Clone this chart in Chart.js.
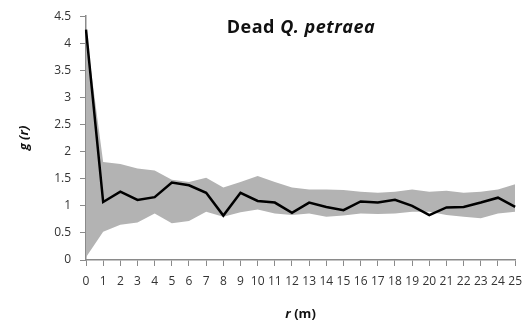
<!DOCTYPE html>
<html>
<head>
<meta charset="utf-8">
<title>Dead Q. petraea</title>
<script src="https://cdn.jsdelivr.net/npm/chart.js@4/dist/chart.umd.min.js"></script>
<style>
  html, body { margin: 0; padding: 0; background: #ffffff; }
  #wrap { width: 530px; height: 327px; }
</style>
</head>
<body>
<div id="wrap"><canvas id="gChart" width="530" height="327"></canvas></div>
<script>
/* ---------- DATA ---------- */
const distances = ["0","1","2","3","4","5","6","7","8","9","10","11","12","13","14","15","16","17","18","19","20","21","22","23","24","25"];
// observed pair correlation g(r)
const gObserved = [4.25, 1.07, 1.26, 1.11, 1.16, 1.43, 1.38, 1.24, 0.82, 1.24, 1.09, 1.06, 0.87, 1.06, 0.98, 0.92, 1.08, 1.06, 1.11, 1.00, 0.83, 0.97, 0.98, 1.06, 1.15, 0.98];
// simulation envelope
const envUpper = [4.2, 1.81, 1.77, 1.69, 1.65, 1.48, 1.44, 1.52, 1.34, 1.44, 1.55, 1.44, 1.34, 1.30, 1.30, 1.29, 1.26, 1.24, 1.26, 1.30, 1.26, 1.28, 1.24, 1.26, 1.30, 1.40];
const envLower = [0.05, 0.52, 0.65, 0.69, 0.86, 0.68, 0.72, 0.89, 0.80, 0.88, 0.93, 0.86, 0.83, 0.86, 0.80, 0.82, 0.86, 0.85, 0.86, 0.89, 0.89, 0.83, 0.80, 0.77, 0.86, 0.89];
const yTicks = [0, 0.5, 1, 1.5, 2, 2.5, 3, 3.5, 4, 4.5];

const FONT = "'Open Sans', sans-serif";
const AXIS_GRAY = "#8a8a8a";

/* ---------- TITLE + AXIS TITLES (mixed italic) ---------- */
function drawRuns(ctx, runs, x, y, align) {
    let total = 0;
    runs.forEach(r => { ctx.font = r.font; total += ctx.measureText(r.text).width; });
    let cx = align === "center" ? x - total / 2 : x;
    runs.forEach(r => {
        ctx.font = r.font;
        ctx.fillText(r.text, cx, y);
        cx += ctx.measureText(r.text).width;
    });
}

const labelsPlugin = {
    id: 'labels',
    afterDraw(chart) {
        const ctx = chart.ctx;
        const area = chart.chartArea;
        ctx.save();
        ctx.fillStyle = "#111";
        ctx.textBaseline = "alphabetic";
        ctx.textAlign = "left";

        // chart title
        ctx.letterSpacing = "0.5px";
        drawRuns(ctx, [
            { text: "Dead ", font: "bold 18px " + FONT },
            { text: "Q. petraea", font: "italic bold 18px " + FONT }
        ], 301, 33, "center");
        ctx.letterSpacing = "0px";

        // x axis title
        drawRuns(ctx, [
            { text: "r", font: "italic bold 13px " + FONT },
            { text: " (m)", font: "bold 13px " + FONT }
        ], (area.left + area.right) / 2, 318, "center");

        // y axis title, rotated
        ctx.translate(28, 138);
        ctx.rotate(-Math.PI / 2);
        drawRuns(ctx, [
            { text: "g (r)", font: "italic bold 13px " + FONT }
        ], 0, 0, "center");
        ctx.restore();
    }
};

/* ---------- CHART ---------- */
document.addEventListener("DOMContentLoaded", () => {
    const ctx = document.getElementById("gChart").getContext('2d');

    new Chart(ctx, {
        type: "line",
        data: {
            labels: distances,
            datasets: [
                {
                    label: "lower",
                    data: envLower,
                    borderWidth: 0,
                    pointRadius: 0,
                    fill: false
                },
                {
                    label: "upper",
                    data: envUpper,
                    borderWidth: 0,
                    pointRadius: 0,
                    backgroundColor: "#b3b3b3",
                    fill: '-1'
                },
                {
                    label: "g(r)",
                    data: gObserved,
                    borderColor: "#000000",
                    borderWidth: 2.5,
                    pointRadius: 0,
                    tension: 0,
                    fill: false
                }
            ]
        },
        options: {
            responsive: false,
            animation: false,
            layout: { padding: { top: 16, right: 14, left: 0, bottom: 0 } },
            plugins: {
                legend: { display: false },
                tooltip: { enabled: false },
                filler: { drawTime: 'beforeDatasetsDraw' } // keep the band under the g(r) line
            },
            scales: {
                x: {
                    offset: false,
                    grid: {
                        drawOnChartArea: false,
                        drawTicks: true,
                        tickLength: 6,
                        color: AXIS_GRAY,
                        offset: false
                    },
                    border: { display: true, color: AXIS_GRAY, width: 1.5 },
                    ticks: {
                        autoSkip: false,
                        maxRotation: 0,
                        padding: 8,
                        color: "#333",
                        font: { family: FONT, size: 12 }
                    },
                    afterFit(scale) { scale.height = 67; }
                },
                y: {
                    min: 0,
                    max: 4.5,
                    afterBuildTicks(scale) { scale.ticks = yTicks.map(v => ({ value: v })); },
                    grid: {
                        drawOnChartArea: false,
                        drawTicks: true,
                        tickLength: 6,
                        color: AXIS_GRAY
                    },
                    border: { display: true, color: AXIS_GRAY, width: 1.5 },
                    ticks: {
                        padding: 9,
                        color: "#333",
                        font: { family: FONT, size: 12 },
                        callback: v => String(v)
                    },
                    afterFit(scale) { scale.width = 86; }
                }
            }
        },
        plugins: [labelsPlugin]
    });
});
</script>
</body>
</html>
